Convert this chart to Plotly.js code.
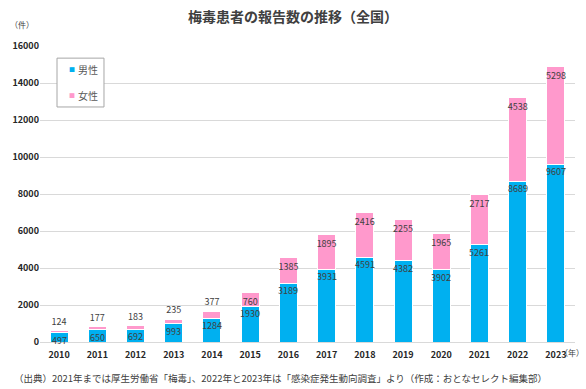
<!DOCTYPE html>
<html><head><meta charset="utf-8">
<script src="https://cdn.plot.ly/plotly-3.0.1.min.js"></script>
<style>body{margin:0;background:#fff}#chart{width:586px;height:389px}</style>
</head><body><div id="chart"></div>
<script>
var years = ['2010','2011','2012','2013','2014','2015','2016','2017','2018','2019','2020','2021','2022','2023'];
var male = [497,650,692,993,1284,1930,3189,3931,4591,4382,3902,5261,8689,9607];
var female = [124,177,183,235,377,760,1385,1895,2416,2255,1965,2717,4538,5298];
var yTicks = [0,2000,4000,6000,8000,10000,12000,14000,16000];
var seriesNames = ['男性','女性'];
var seriesColors = ['#00B0F0','#FF99CC'];

var F = 'Noto Sans CJK JP, Noto Sans, sans-serif';
var labelFont = {family: F, size: 9, color: '#404040'};

var traces = [
  {type:'bar', name:seriesNames[0], x:years, y:male, marker:{color:seriesColors[0], line:{color:'#ffffff', width:1}},
   hoverinfo:'none', showlegend:false},
  {type:'bar', name:seriesNames[1], x:years, y:female, marker:{color:seriesColors[1], line:{color:'#ffffff', width:1}},
   text: female.map(String), textposition: female.map(function(v){return v < 500 ? 'outside' : 'inside';}),
   insidetextanchor:'end', textangle:0, textfont:labelFont, outsidetextfont:labelFont,
   constraintext:'none', cliponaxis:false, hoverinfo:'none', showlegend:false}
];

var annotations = [
  {text:'（件）', xref:'paper', yref:'paper', x:-0.034, y:1.071, xanchor:'center', yanchor:'middle', showarrow:false,
   font:{family:F, size:8, color:'#404040'}},
  {text:'（年）', xref:'paper', yref:'paper', x:1.0206, y:-0.034, xanchor:'right', yanchor:'middle', showarrow:false,
   font:{family:F, size:8, color:'#404040'}},
  {text:'（出典）2021年までは厚生労働省「梅毒」、2022年と2023年は「感染症発生動向調査」より（作成：おとなセレクト編集部）',
   xref:'paper', yref:'paper', x:-0.052, y:-0.122, xanchor:'left', yanchor:'middle', showarrow:false,
   font:{family:F, size:9.5, color:'#404040'}}
];
// male value labels at the top of each blue segment (x = category index)
male.forEach(function(v, i){
  annotations.push({text:String(v), x:i, y:v, xref:'x', yref:'y', xanchor:'center', yanchor:'top',
    yshift:1, showarrow:false, font:labelFont});
});
// custom legend (small square markers like the reference)
var legendY = [0.919, 0.834];
seriesNames.forEach(function(n, i){
  annotations.push({text:'■', xref:'paper', yref:'paper', x:0.0505, y:legendY[i], xanchor:'left', yanchor:'middle',
    showarrow:false, font:{family:F, size:6, color:seriesColors[i]}});
  annotations.push({text:n, xref:'paper', yref:'paper', x:0.0682, y:legendY[i], xanchor:'left', yanchor:'middle',
    showarrow:false, font:{family:F, size:10, color:'#595959'}});
});

var layout = {
  width:586, height:389,
  margin:{l:40, r:11, t:46, b:47},
  paper_bgcolor:'#fff', plot_bgcolor:'#fff',
  barmode:'stack', bargap:0.53,
  showlegend:false,
  title:{text:'梅毒患者の報告数の推移（全国）', x:0.5, xanchor:'center', y:0.955, yanchor:'middle',
         font:{family:F, size:14, color:'#404040', weight:'bold'}},
  xaxis:{type:'category', range:[-0.5, 13.5], tickfont:{family:F, size:9, color:'#262626', weight:'bold'}, showgrid:false,
         showline:true, linecolor:'#D9D9D9', linewidth:1, ticks:'', ticklabelstandoff:4, fixedrange:true},
  yaxis:{range:[0,16000], tickvals:yTicks, ticktext:yTicks.map(String), showgrid:true, gridcolor:'#D9D9D9',
         zeroline:false, tickfont:{family:F, size:9, color:'#262626', weight:'bold'}, ticks:'', fixedrange:true},
  shapes:[
    {type:'rect', xref:'paper', yref:'paper', x0:0.0318, x1:0.1196, y0:0.794, y1:0.959,
     line:{color:'#A6A6A6', width:1}, fillcolor:'#ffffff', layer:'above'}
  ],
  annotations:annotations
};
Plotly.newPlot('chart', traces, layout, {displayModeBar:false, staticPlot:true});
</script></body></html>
